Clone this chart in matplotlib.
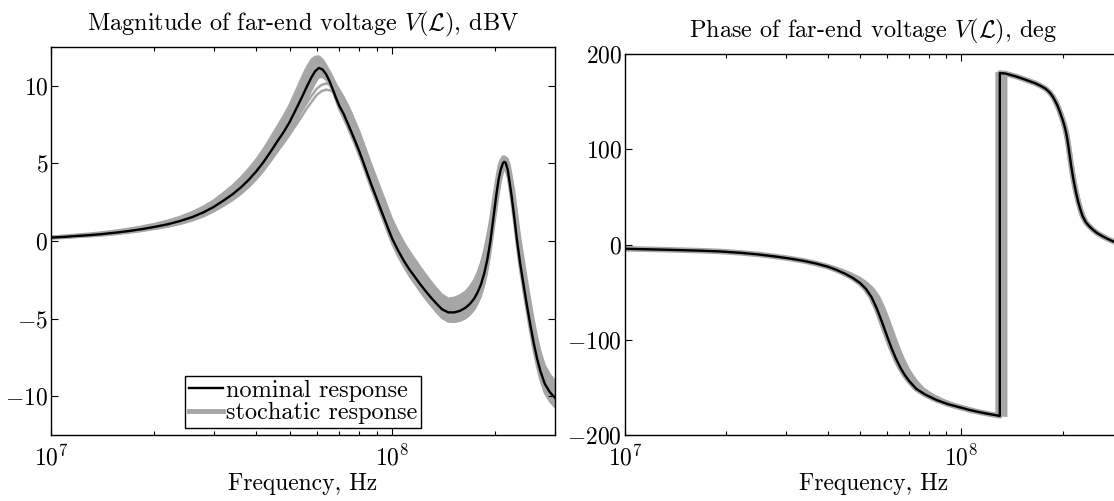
import numpy as np
import matplotlib
matplotlib.use('Agg')
import matplotlib.pyplot as plt
from matplotlib.lines import Line2D
from matplotlib.ticker import LogLocator, MultipleLocator, NullFormatter

# magnitude, dBV (frequency in MHz)
mag_f = [10, 11, 12, 13, 14, 15.5, 17, 18.5, 20, 22,
         24, 26, 28, 30, 32, 34, 36, 38, 40, 42,
         44, 46, 48, 50, 52, 53.5, 55, 56.5, 58, 59.5,
         61, 62.5, 64, 65.5, 67, 68.5, 70, 72, 74, 76,
         78, 80, 82.5, 85, 87.5, 90, 92.5, 95, 97.5, 100,
         104, 108, 112, 116, 120, 125, 130, 135, 140, 146,
         152, 158, 164, 169, 174, 178, 182, 186, 190, 194,
         198, 202, 205, 208, 211, 213, 215, 218, 221, 224,
         228, 232, 237, 243, 248, 254, 260, 266, 272, 280,
         290, 300]
mag_nom = [0.22, 0.27, 0.33, 0.38, 0.44, 0.54, 0.65, 0.77, 0.9, 1.08,
           1.3, 1.55, 1.85, 2.2, 2.6, 3.0, 3.45, 3.95, 4.5, 5.1,
           5.75, 6.4, 7.0, 7.65, 8.4, 8.95, 9.5, 10.05, 10.55, 10.95,
           11.15, 11.05, 10.75, 10.3, 9.75, 9.2, 8.7, 8.2, 7.6, 7.0,
           6.4, 5.8, 5.0, 4.2, 3.45, 2.75, 2.05, 1.4, 0.75, 0.15,
           -0.6, -1.25, -1.8, -2.25, -2.7, -3.2, -3.65, -4.05, -4.4, -4.6,
           -4.6, -4.5, -4.3, -4.05, -3.7, -3.3, -2.8, -2.1, -1.2, 0.0,
           1.5, 3.0, 3.95, 4.6, 5.0, 5.1, 5.05, 4.6, 3.75, 2.85,
           1.5, 0.1, -1.4, -2.9, -4.1, -5.4, -6.6, -7.6, -8.4, -9.2,
           -9.75, -10.1]
# envelope of the stochastic responses
mag_hi = [0.30, 0.36, 0.43, 0.49, 0.56, 0.68, 0.81, 0.95, 1.1, 1.32,
          1.58, 1.88, 2.23, 2.63, 3.1, 3.57, 4.1, 4.67, 5.28, 5.95,
          6.67, 7.38, 8.05, 8.77, 9.6, 10.2, 10.8, 11.3, 11.7, 11.88,
          11.9, 11.7, 11.35, 10.95, 10.55, 10.1, 9.75, 9.3, 8.8, 8.25,
          7.65, 7.1, 6.3, 5.5, 4.75, 4.05, 3.35, 2.7, 2.03, 1.4,
          0.63, -0.05, -0.62, -1.1, -1.58, -2.12, -2.62, -3.07, -3.45, -3.7,
          -3.65, -3.5, -3.25, -2.92, -2.48, -2.0, -1.4, -0.6, 0.4, 1.5,
          2.85, 4.1, 4.85, 5.25, 5.45, 5.45, 5.4, 5.3, 4.9, 4.2,
          3.2, 1.9, 0.3, -1.2, -2.45, -3.8, -5.1, -6.2, -7.1, -8.0,
          -8.6, -9.0]
mag_lo = [0.15, 0.19, 0.25, 0.29, 0.34, 0.43, 0.53, 0.64, 0.76, 0.91,
          1.1, 1.32, 1.58, 1.9, 2.26, 2.62, 3.02, 3.48, 3.98, 4.53,
          5.13, 5.73, 6.3, 6.9, 7.6, 8.12, 8.68, 9.22, 9.72, 10.2,
          10.55, 10.55, 10.4, 10.1, 9.6, 9.0, 8.45, 7.9, 7.3, 6.7,
          6.1, 5.5, 4.7, 3.9, 3.15, 2.45, 1.73, 1.07, 0.42, -0.2,
          -0.97, -1.64, -2.22, -2.7, -3.17, -3.7, -4.17, -4.6, -4.97, -5.2,
          -5.22, -5.15, -4.98, -4.75, -4.42, -4.04, -3.56, -2.88, -2.0, -0.8,
          0.6, 2.0, 2.95, 3.8, 4.4, 4.6, 4.55, 4.1, 3.25, 2.35,
          1.0, -0.4, -1.9, -3.4, -4.6, -5.95, -7.15, -8.15, -9.0, -9.8,
          -10.35, -10.7]
# two outlying samples around the first resonance
out_f = [42, 44, 46, 48, 50, 52, 54, 56, 58, 60, 62, 64, 66, 68, 70, 72, 75, 78]
out_a = [4.95, 5.5, 6.05, 6.6, 7.15, 7.7, 8.3, 8.85, 9.35, 9.8, 10.05, 10.15, 10.05, 9.8, 9.45, 9.0, 8.3, 7.5]
out_b = [4.75, 5.25, 5.8, 6.3, 6.85, 7.4, 7.95, 8.5, 8.95, 9.4, 9.65, 9.75, 9.7, 9.5, 9.2, 8.8, 8.15, 7.4]

# phase, deg (frequency in MHz)
ph_f = [10, 12, 14, 16.5, 19, 22, 25, 28, 31, 34,
        37, 40, 42.5, 45, 47.5, 50, 52, 54, 56, 58,
        60, 62, 64, 66, 68, 70, 73.4, 78, 84, 91,
        99, 106, 113, 120, 127, 130, 130, 135, 145, 155,
        165, 172, 178, 183, 187, 190, 193, 196, 198, 200,
        202, 204, 206, 208, 210, 212, 214, 216, 219, 222,
        225.5, 229, 234, 240, 246, 253, 261, 269, 276, 283,
        291, 300]
ph_nom = [-4.5, -5.1, -5.7, -6.4, -7.2, -8.7, -10.5, -12.6, -14.8, -17.2,
          -20, -23.2, -26.6, -30.5, -35, -40.5, -46.5, -55, -67, -81,
          -95.5, -109, -120.5, -130, -137.5, -143.5, -151.5, -157.5, -163, -167.5,
          -171, -173.8, -176, -177.8, -179.3, -180, 180, 179.5, 176.5, 173,
          169.5, 166.5, 163.5, 159.5, 155, 150.5, 145.5, 139.5, 135, 130.5,
          125.5, 119.5, 112, 102.5, 92, 82, 73, 65, 54.5, 45.5,
          37, 30, 23.5, 19, 15.4, 12, 9.2, 6.7, 4.8, 3.1,
          1.8, 0.6]
# frequency spread of the stochastic responses (left / right edge)
ph_f_lo = [9.95, 11.95, 13.9, 16.4, 18.9, 21.85, 24.8, 27.8, 30.7, 33.6,
           36.5, 39.5, 41.9, 44.3, 46.8, 49.25, 51.2, 53.2, 55.2, 57.1,
           59.1, 61.1, 63, 65, 67, 69, 72.3, 76.8, 82.8, 89.7,
           97.5, 104.5, 111.5, 118.5, 125.5, 127, 127, 133.5, 143.5, 153.5,
           163.5, 170.5, 176.5, 181.3, 185.3, 188.1, 191.1, 194, 196, 198,
           200, 202, 204, 206, 208, 210, 212, 214, 217, 220,
           223.3, 226.7, 232, 238, 244, 251, 259, 267, 274, 281,
           289, 298]
ph_f_hi = [10.1, 12.12, 14.15, 16.7, 19.25, 22.35, 25.45, 28.6, 31.8, 35,
           38.3, 41.6, 44.4, 47.2, 50, 52.6, 54.8, 57, 59.1, 61.2,
           63.3, 65.4, 67.5, 69.6, 71.7, 73.8, 77.4, 82.2, 88.4, 95.6,
           103.5, 110.5, 117.5, 124, 131, 136, 136, 139.5, 148.5, 158,
           168, 174.8, 180.6, 185.6, 189.5, 192.5, 195.5, 198.5, 200.6, 202.6,
           204.6, 206.7, 208.7, 210.7, 212.7, 214.8, 216.8, 218.8, 221.8, 224.9,
           228.4, 232, 237, 243, 249.2, 256.3, 264.4, 272.5, 279.6, 286.7,
           294.8, 304]

gray = '#a6a6a6'

plt.rcParams['font.family'] = 'serif'
plt.rcParams['font.serif'] = ['cmr10']
plt.rcParams['mathtext.fontset'] = 'cm'
plt.rcParams['axes.formatter.use_mathtext'] = True
plt.rcParams['font.size'] = 17
plt.rcParams['axes.unicode_minus'] = True

fig = plt.figure(figsize=(11.14, 5.01), dpi=100)
ax1 = fig.add_axes([0.0458, 0.1317, 0.4524, 0.7745])
ax2 = fig.add_axes([0.5610, 0.1317, 0.4462, 0.7605])

mhz = 1e6
f = np.array(mag_f) * mhz
ax1.fill_between(f, mag_lo, mag_hi, color=gray, lw=0)
ax1.plot(f, mag_hi, color=gray, lw=1.5)
ax1.plot(f, mag_lo, color=gray, lw=1.5)
ax1.plot(np.array(out_f) * mhz, out_a, color=gray, lw=1.8)
ax1.plot(np.array(out_f) * mhz, out_b, color=gray, lw=1.8)
ax1.plot(f, mag_nom, color='k', lw=1.7)
ax1.set_ylim(-12.5, 12.5)
ax1.yaxis.set_major_locator(MultipleLocator(5))
ax1.set_title(r'Magnitude of far-end voltage $V(\mathcal{L})$, dBV', fontsize=17.5, pad=12)

fp = np.array(ph_f) * mhz
band_x = np.concatenate([np.array(ph_f_lo), np.array(ph_f_hi)[::-1]]) * mhz
band_y = np.concatenate([ph_nom, ph_nom[::-1]])
ax2.fill(band_x, band_y, color=gray, lw=1.5, ec=gray)
ax2.plot(fp, ph_nom, color=gray, lw=4)
ax2.plot(fp, ph_nom, color='k', lw=1.7)
ax2.set_ylim(-200, 200)
ax2.yaxis.set_major_locator(MultipleLocator(100))
ax2.set_title(r'Phase of far-end voltage $V(\mathcal{L})$, deg', fontsize=17.5, pad=12)

for ax in (ax1, ax2):
    ax.set_xscale('log')
    ax.set_xlim(1e7, 3e8)
    ax.xaxis.set_major_locator(LogLocator(base=10, numticks=10))
    ax.xaxis.set_minor_locator(LogLocator(base=10, subs=np.arange(2, 10), numticks=10))
    ax.xaxis.set_minor_formatter(NullFormatter())
    ax.tick_params(which='both', direction='in', top=True, right=True, width=0.8)
    ax.tick_params(which='major', length=5)
    ax.tick_params(which='minor', length=3)
    ax.tick_params(axis='x', pad=7)
    ax.tick_params(axis='y', pad=2)
    ax.set_xlabel('Frequency, Hz', fontsize=17, labelpad=2)
    for sp in ax.spines.values():
        sp.set_linewidth(1.0)

handles = [Line2D([], [], color='k', lw=1.7), Line2D([], [], color=gray, lw=3.5)]
leg = ax1.legend(handles, ['nominal response', 'stochatic response'], loc='lower center',
                 bbox_to_anchor=(0.5, 0.0), fontsize=17.5, handlelength=1.4, handletextpad=0.1,
                 labelspacing=0.0, borderpad=0.15, borderaxespad=0.3, fancybox=False, framealpha=1)
leg.get_frame().set_edgecolor('k')
leg.get_frame().set_linewidth(1.0)

fig.savefig('out.png', dpi=100)
